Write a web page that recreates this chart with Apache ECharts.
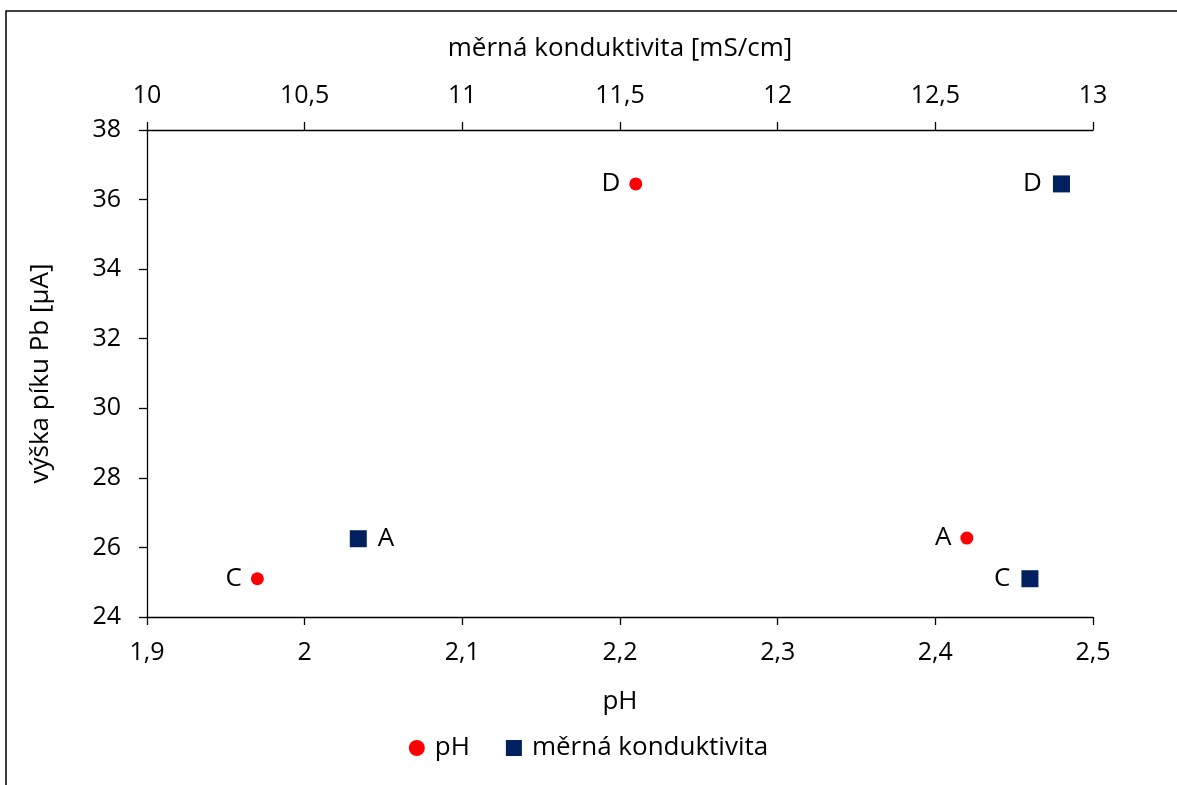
<!DOCTYPE html>
<html>
<head>
<meta charset="utf-8">
<script src="https://cdn.jsdelivr.net/npm/echarts@6/dist/echarts.min.js"></script>
<style>
  html, body { margin: 0; padding: 0; background: #fff; }
  #chart { width: 1177px; height: 785px; }
</style>
</head>
<body>
<div id="chart"></div>
<script>
// Sample labels and measured values
const seriesNames = ['pH', 'měrná konduktivita'];
const sampleLabelsPH = ['C', 'A', 'D'];
const phValues = [1.97, 2.42, 2.21];
const peakForPH = [25.1, 26.27, 36.45];

const sampleLabelsCond = ['A', 'C', 'D'];
const condValues = [10.67, 12.80, 12.90];
const peakForCond = [26.25, 25.1, 36.45];
const condLabelSide = ['right', 'left', 'left'];

const axisNames = { bottom: 'pH', top: 'měrná konduktivita [mS/cm]', left: 'výška píku Pb [µA]' };

const FONT = '"Open Sans", Lato, sans-serif';
const FS_TICK = 25;
const FS = 26;
const comma = v => String(+v.toFixed(2)).replace('.', ',');

const phData = phValues.map((x, i) => ({
  value: [x, peakForPH[i]],
  name: sampleLabelsPH[i],
  label: { position: 'left' }
}));
const condData = condValues.map((x, i) => ({
  value: [x, peakForCond[i]],
  name: sampleLabelsCond[i],
  label: { position: condLabelSide[i] }
}));

const axisCommon = {
  splitLine: { show: false },
  axisLine: { show: true, onZero: false, lineStyle: { color: '#000', width: 1.3 } },
  axisTick: { show: true, inside: false, length: 8, lineStyle: { color: '#000', width: 1.3 } },
  axisLabel: { color: '#000', fontFamily: FONT, fontSize: FS_TICK, formatter: comma },
  nameTextStyle: { color: '#000', fontFamily: FONT, fontSize: FS }
};

const chart = echarts.init(document.getElementById('chart'));
chart.setOption({
  animation: false,
  backgroundColor: '#fff',
  graphic: [{
    type: 'rect',
    shape: { x: 6, y: 11, width: 1400, height: 1000 },
    style: { fill: 'none', stroke: '#000', lineWidth: 1.5 },
    silent: true
  }],
  grid: { left: 147, right: 84, top: 130, bottom: 168 },
  legend: {
    bottom: 19,
    left: 'center',
    itemGap: 36,
    itemWidth: 16,
    itemHeight: 16,
    textStyle: { color: '#000', fontFamily: FONT, fontSize: FS, padding: [0, 0, 0, 5] },
    data: [
      { name: seriesNames[0], icon: 'circle' },
      { name: seriesNames[1], icon: 'rect' }
    ]
  },
  xAxis: [
    Object.assign({}, axisCommon, {
      type: 'value', position: 'bottom', min: 1.9, max: 2.5, interval: 0.1,
      name: axisNames.bottom, nameLocation: 'middle', nameGap: 72,
      axisLabel: Object.assign({}, axisCommon.axisLabel, { margin: 23 })
    }),
    Object.assign({}, axisCommon, {
      type: 'value', position: 'top', min: 10, max: 13, interval: 0.5,
      name: axisNames.top, nameLocation: 'middle', nameGap: 68,
      axisLabel: Object.assign({}, axisCommon.axisLabel, { margin: 22 })
    })
  ],
  yAxis: [
    Object.assign({}, axisCommon, {
      type: 'value', min: 24, max: 38, interval: 2,
      name: axisNames.left, nameLocation: 'middle', nameGap: 93, nameRotate: 90,
      axisLabel: Object.assign({}, axisCommon.axisLabel, { margin: 26 })
    })
  ],
  series: [
    {
      name: seriesNames[0],
      type: 'scatter',
      xAxisIndex: 0,
      symbol: 'circle',
      symbolSize: 13,
      itemStyle: { color: '#ff0000', opacity: 1 },
      label: {
        show: true, formatter: p => p.name, distance: 9,
        color: '#000', fontFamily: FONT, fontSize: FS
      },
      data: phData
    },
    {
      name: seriesNames[1],
      type: 'scatter',
      xAxisIndex: 1,
      symbol: 'rect',
      symbolSize: 17,
      itemStyle: { color: '#002060', opacity: 1 },
      label: {
        show: true, formatter: p => p.name, distance: 11,
        color: '#000', fontFamily: FONT, fontSize: FS
      },
      data: condData
    }
  ]
});
</script>
</body>
</html>
